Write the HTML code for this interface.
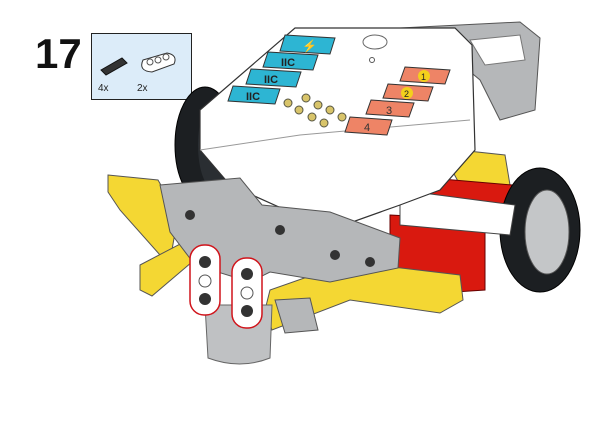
<!DOCTYPE html>
<html><head><meta charset="utf-8"><style>
html,body{margin:0;padding:0;background:#fff;}
svg{display:block;}
text{font-family:"Liberation Sans",sans-serif;}
</style></head><body>
<svg width="600" height="425" viewBox="0 0 600 425">
<text x="35" y="68" font-size="42" font-weight="bold" fill="#111">17</text>
<g>
<rect x="91.5" y="33.5" width="100" height="66" fill="#dcecf9" stroke="#222" stroke-width="1"/>
<g>
<path d="M101 70 L122 58 L127 63 L106 75 Z" fill="#333" stroke="#111"/>
<text x="98" y="91" font-size="10" fill="#222">4x</text></g>
<g>
<path d="M143 60 L167 53 Q178 55 174 64 L152 72 Q138 71 143 60 Z" fill="#fff" stroke="#333"/>
<circle cx="150" cy="62" r="3" fill="#fff" stroke="#555"/><circle cx="158" cy="60" r="3" fill="#fff" stroke="#555"/><circle cx="166" cy="57" r="3" fill="#fff" stroke="#555"/>
<text x="137" y="91" font-size="10" fill="#222">2x</text></g>
</g>
<g>
<path d="M400 28 L520 22 L540 38 L535 110 L500 120 L480 80 L450 55 Z" fill="#b5b7b9" stroke="#555"/>
<path d="M470 40 L520 35 L525 60 L485 65 Z" fill="#fff" stroke="#777"/>
<ellipse cx="205" cy="145" rx="30" ry="58" fill="#1c1f22" stroke="#000"/>
<ellipse cx="214" cy="145" rx="16" ry="44" fill="#2a2e32"/>
<path d="M440 148 L505 155 L510 185 L460 185 Z" fill="#f4d733" stroke="#555"/>
<path d="M430 178 L512 185 L510 215 L430 210 Z" fill="#d9190f" stroke="#600"/>
<ellipse cx="540" cy="230" rx="40" ry="62" fill="#1c1f22" stroke="#000"/>
<ellipse cx="547" cy="232" rx="22" ry="42" fill="#c4c6c8" stroke="#555"/>
<path d="M390 215 L485 220 L485 290 L455 292 L390 280 Z" fill="#d9190f" stroke="#600"/>
<path d="M400 190 L515 205 L510 235 L400 225 Z" fill="#fff" stroke="#444"/>
<path d="M108 175 L158 180 L178 215 L172 250 L160 255 L120 210 L108 192 Z" fill="#f4d733" stroke="#555"/>
<path d="M140 265 L182 243 L192 262 L152 296 L140 290 Z" fill="#f4d733" stroke="#555"/>
<path d="M200 110 L295 28 L455 28 L472 45 L475 150 L440 190 L400 205 L330 230 L230 185 L200 150 Z" fill="#fff" stroke="#333" stroke-width="1.2"/>
<path d="M200 150 L300 135 L470 120" fill="none" stroke="#999"/>
<g>
<path d="M285 35 L335 38 L330 54 L280 51 Z" fill="#2db5d3" stroke="#333"/>
<text x="302" y="50" font-size="12" font-weight="bold" fill="#111">⚡</text>
<path d="M268 52 L318 55 L313 70 L263 67 Z" fill="#2db5d3" stroke="#333"/>
<text x="281" y="66" font-size="11" font-weight="bold" fill="#222">IIC</text>
<path d="M251 69 L301 72 L296 87 L246 84 Z" fill="#2db5d3" stroke="#333"/>
<text x="264" y="83" font-size="11" font-weight="bold" fill="#222">IIC</text>
<path d="M233 86 L280 89 L275 104 L228 101 Z" fill="#2db5d3" stroke="#333"/>
<text x="246" y="100" font-size="11" font-weight="bold" fill="#222">IIC</text>
</g>
<circle cx="372" cy="60" r="2.5" fill="none" stroke="#555"/>
<ellipse cx="375" cy="42" rx="12" ry="7" fill="#fff" stroke="#666"/>
<g fill="#d8c46a" stroke="#554">
<circle cx="288" cy="103" r="4"/><circle cx="306" cy="98" r="4"/><circle cx="299" cy="110" r="4"/><circle cx="318" cy="105" r="4"/>
<circle cx="312" cy="117" r="4"/><circle cx="330" cy="110" r="4"/><circle cx="324" cy="123" r="4"/><circle cx="342" cy="117" r="4"/>
</g>
<g>
<path d="M405 67 L450 70 L445 84 L400 81 Z" fill="#ee8466" stroke="#333"/>
<circle cx="424" cy="76" r="6" fill="#f3d01c"/><text x="421" y="80" font-size="9" fill="#222">1</text>
<path d="M388 84 L433 87 L428 101 L383 98 Z" fill="#ee8466" stroke="#333"/>
<circle cx="407" cy="93" r="6" fill="#f3d01c"/><text x="404" y="97" font-size="9" fill="#222">2</text>
<path d="M371 100 L414 103 L409 117 L366 114 Z" fill="#ee8466" stroke="#333"/>
<text x="386" y="114" font-size="11" fill="#333">3</text>
<path d="M350 117 L392 120 L387 135 L345 132 Z" fill="#ee8466" stroke="#333"/>
<text x="364" y="131" font-size="11" fill="#333">4</text>
</g>
<path d="M265 310 L270 290 L350 262 L460 275 L463 300 L440 313 L350 300 L272 330 Z" fill="#f4d733" stroke="#555"/>
<path d="M160 185 L240 178 L262 205 L330 212 L400 238 L398 268 L330 282 L270 272 L250 282 L195 265 L170 232 Z" fill="#b5b7b9" stroke="#555"/>
<g fill="#333"><circle cx="190" cy="215" r="5"/><circle cx="280" cy="230" r="5"/><circle cx="335" cy="255" r="5"/><circle cx="370" cy="262" r="5"/></g>
<path d="M275 300 L310 298 L318 330 L285 333 Z" fill="#b5b7b9" stroke="#555"/>
<path d="M205 305 L272 305 L270 358 Q240 370 208 358 Z" fill="#bfc1c3" stroke="#666"/>
<g>
<rect x="190" y="245" width="30" height="70" rx="14" fill="#fff" stroke="#d0141b" stroke-width="1.5"/>
<circle cx="205" cy="262" r="6" fill="#333"/><circle cx="205" cy="281" r="6" fill="#fff" stroke="#555"/><circle cx="205" cy="299" r="6" fill="#333"/>
<rect x="232" y="258" width="30" height="70" rx="14" fill="#fff" stroke="#d0141b" stroke-width="1.5"/>
<circle cx="247" cy="274" r="6" fill="#333"/><circle cx="247" cy="293" r="6" fill="#fff" stroke="#555"/><circle cx="247" cy="311" r="6" fill="#333"/>
</g>
</g>
</svg>
</body></html>
